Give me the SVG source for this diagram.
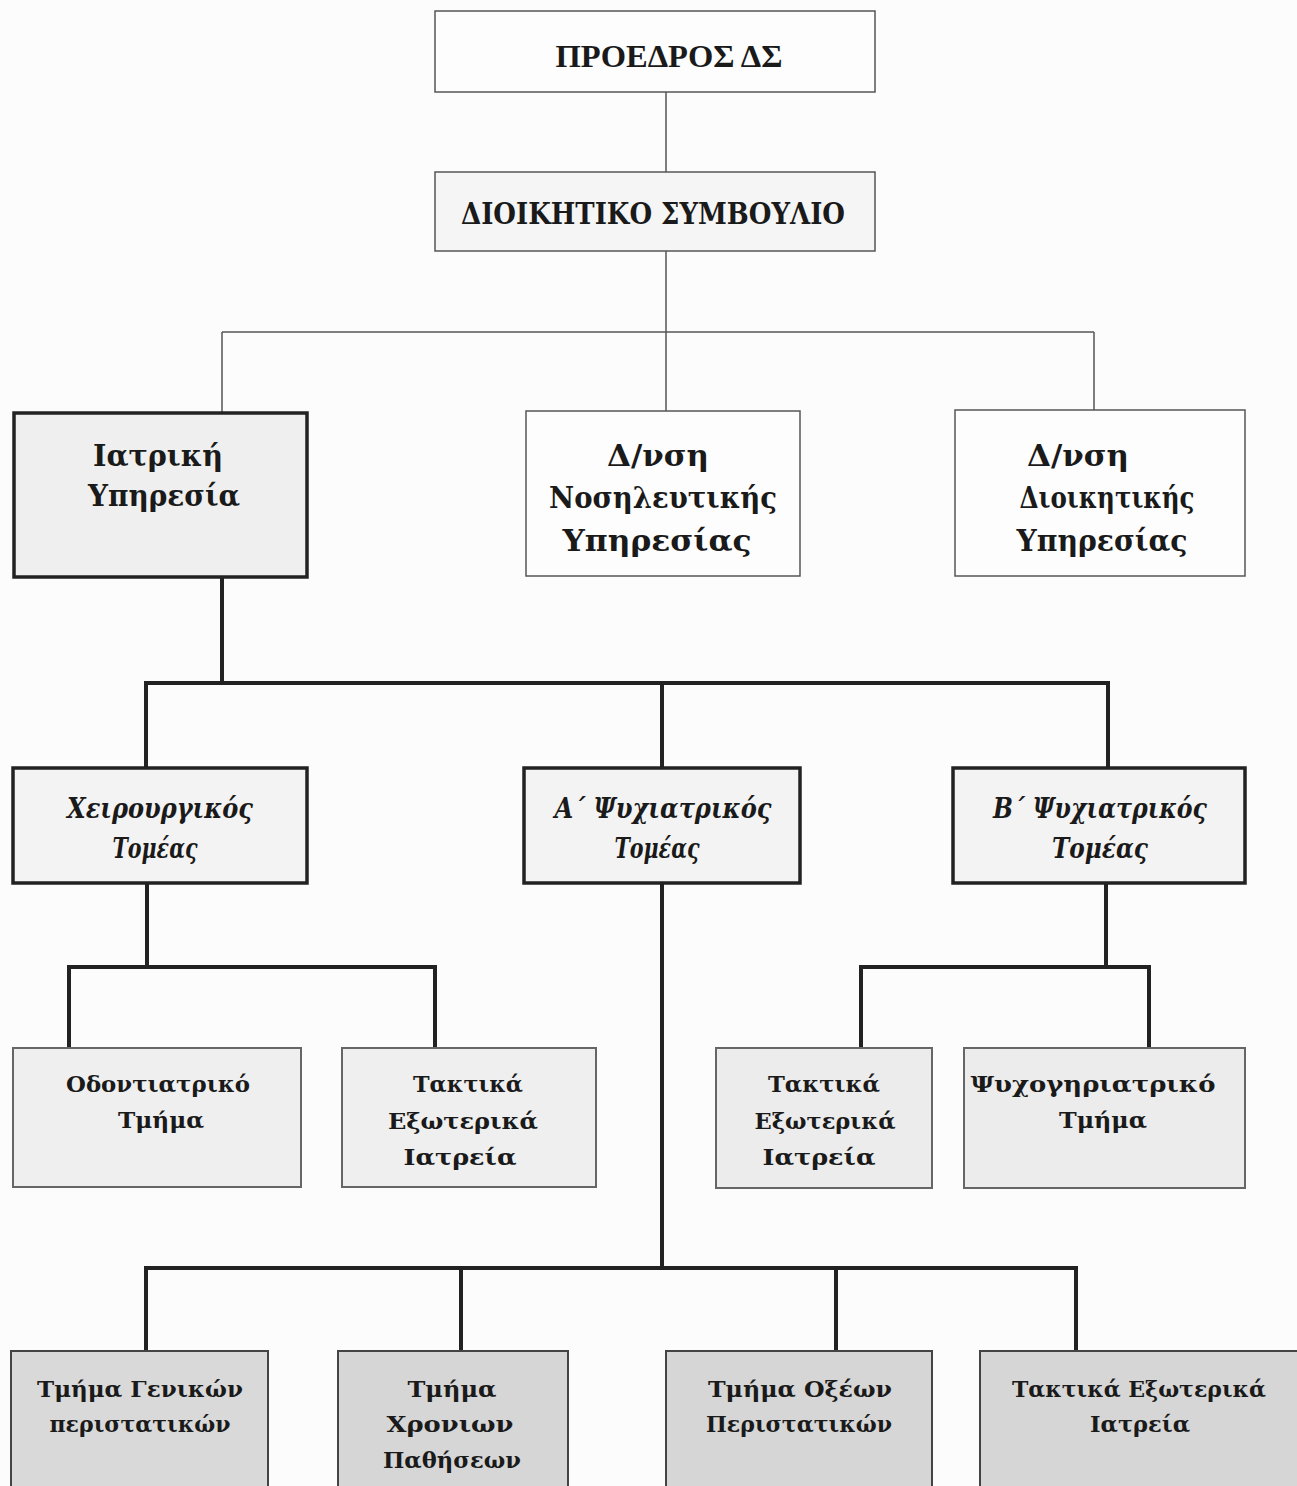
<svg xmlns="http://www.w3.org/2000/svg" width="1297" height="1486" viewBox="0 0 1297 1486">
<style>
.thin{fill:none;stroke:#555;stroke-width:1.5}
.thick{fill:none;stroke:#222;stroke-width:4;stroke-linecap:square}
.b1{stroke:#555;stroke-width:1.5}
.b2{stroke:#222;stroke-width:3.5}
.b3{stroke:#666;stroke-width:2}
.b4{stroke:#444;stroke-width:2}
text{font-family:"DejaVu Serif","Liberation Serif",serif;fill:#1a1a1a;text-anchor:middle;font-weight:bold}
.t1{font-size:29px}
.tc{font-family:"Liberation Serif",serif;font-size:32px}
.ti{font-size:28px;font-style:italic}
.t3{font-size:23px}
.t4{font-size:23px}
</style>
<rect width="1297" height="1486" fill="#fcfcfc"/>
<g id="connectors">
<path class="thin" d="M666 92V172M666 251V411M222 332H1094M222 332V413M1094 332V410"/>
<path class="thick" d="M222 577V683M146 683H1108M146 683V768M662 683V768M1108 683V768"/>
<path class="thick" d="M147 883V967M69 967H435M69 967V1048M435 967V1048"/>
<path class="thick" d="M1106 883V967M861 967H1149M861 967V1048M1149 967V1048"/>
<path class="thick" d="M662 883V1268M146 1268H1076M146 1268V1351M461 1268V1351M836 1268V1351M1076 1268V1351"/>
</g>
<g id="proedros">
<rect class="b1" x="435" y="11" width="440" height="81" fill="#fdfdfd"/>
<text class="tc" x="669" y="67" textLength="227" lengthAdjust="spacingAndGlyphs">ΠΡΟΕΔΡΟΣ ΔΣ</text>
</g>
<g id="ds">
<rect class="b1" x="435" y="172" width="440" height="79" fill="#f5f5f5"/>
<text class="t1" x="653" y="224" textLength="384" lengthAdjust="spacingAndGlyphs">ΔΙΟΙΚΗΤΙΚΟ ΣΥΜΒΟΥΛΙΟ</text>
</g>
<g id="iatriki">
<rect class="b2" x="14" y="413" width="293" height="164" fill="#efefef"/>
<text class="t1" x="158" y="466" textLength="130" lengthAdjust="spacingAndGlyphs">Ιατρική</text>
<text class="t1" x="164" y="506" textLength="152" lengthAdjust="spacingAndGlyphs">Υπηρεσία</text>
</g>
<g id="nosileftiki">
<rect class="b1" x="526" y="411" width="274" height="165" fill="#fdfdfd"/>
<text class="t1" x="658" y="466" textLength="102" lengthAdjust="spacingAndGlyphs">Δ/νση</text>
<text class="t1" x="663" y="508" textLength="228" lengthAdjust="spacingAndGlyphs">Νοσηλευτικής</text>
<text class="t1" x="657" y="551" textLength="189" lengthAdjust="spacingAndGlyphs">Υπηρεσίας</text>
</g>
<g id="dioikitiki">
<rect class="b1" x="955" y="410" width="290" height="166" fill="#fdfdfd"/>
<text class="t1" x="1078" y="466" textLength="102" lengthAdjust="spacingAndGlyphs">Δ/νση</text>
<text class="t1" x="1107" y="508" textLength="175" lengthAdjust="spacingAndGlyphs">Διοικητικής</text>
<text class="t1" x="1102" y="551" textLength="171" lengthAdjust="spacingAndGlyphs">Υπηρεσίας</text>
</g>
<g id="xeirourgikos">
<rect class="b2" x="13" y="768" width="294" height="115" fill="#f3f3f3"/>
<text class="ti" x="160" y="818" textLength="186" lengthAdjust="spacingAndGlyphs">Χειρουργικός</text>
<text class="ti" x="155" y="858" textLength="85" lengthAdjust="spacingAndGlyphs">Τομέας</text>
</g>
<g id="a-psychiatrikos">
<rect class="b2" x="524" y="768" width="276" height="115" fill="#f3f3f3"/>
<text class="ti" x="663" y="818" textLength="217" lengthAdjust="spacingAndGlyphs">Α΄ Ψυχιατρικός</text>
<text class="ti" x="657" y="858" textLength="85" lengthAdjust="spacingAndGlyphs">Τομέας</text>
</g>
<g id="b-psychiatrikos">
<rect class="b2" x="953" y="768" width="292" height="115" fill="#f3f3f3"/>
<text class="ti" x="1100" y="818" textLength="214" lengthAdjust="spacingAndGlyphs">Β΄ Ψυχιατρικός</text>
<text class="ti" x="1100" y="858" textLength="96" lengthAdjust="spacingAndGlyphs">Τομέας</text>
</g>
<g id="odontiatriko">
<rect class="b3" x="13" y="1048" width="288" height="139" fill="#efefef"/>
<text class="t3" x="158" y="1092" textLength="184" lengthAdjust="spacingAndGlyphs">Οδοντιατρικό</text>
<text class="t3" x="161" y="1128" textLength="86" lengthAdjust="spacingAndGlyphs">Τμήμα</text>
</g>
<g id="taktika-1">
<rect class="b3" x="342" y="1048" width="254" height="139" fill="#efefef"/>
<text class="t3" x="468" y="1092" textLength="110" lengthAdjust="spacingAndGlyphs">Τακτικά</text>
<text class="t3" x="463" y="1129" textLength="150" lengthAdjust="spacingAndGlyphs">Εξωτερικά</text>
<text class="t3" x="460" y="1165" textLength="113" lengthAdjust="spacingAndGlyphs">Ιατρεία</text>
</g>
<g id="taktika-2">
<rect class="b3" x="716" y="1048" width="216" height="140" fill="#ececec"/>
<text class="t3" x="824" y="1092" textLength="112" lengthAdjust="spacingAndGlyphs">Τακτικά</text>
<text class="t3" x="825" y="1129" textLength="141" lengthAdjust="spacingAndGlyphs">Εξωτερικά</text>
<text class="t3" x="819" y="1165" textLength="113" lengthAdjust="spacingAndGlyphs">Ιατρεία</text>
</g>
<g id="psychogiriatriko">
<rect class="b3" x="964" y="1048" width="281" height="140" fill="#ececec"/>
<text class="t3" x="1093" y="1092" textLength="245" lengthAdjust="spacingAndGlyphs">Ψυχογηριατρικό</text>
<text class="t3" x="1103" y="1128" textLength="88" lengthAdjust="spacingAndGlyphs">Τμήμα</text>
</g>
<g id="genikon">
<rect class="b4" x="11" y="1351" width="257" height="140" fill="#d9d9d9"/>
<text class="t4" x="140" y="1397" textLength="206" lengthAdjust="spacingAndGlyphs">Τμήμα Γενικών</text>
<text class="t4" x="140" y="1432" textLength="181" lengthAdjust="spacingAndGlyphs">περιστατικών</text>
</g>
<g id="xronion">
<rect class="b4" x="338" y="1351" width="230" height="140" fill="#d6d6d6"/>
<text class="t4" x="452" y="1397" textLength="89" lengthAdjust="spacingAndGlyphs">Τμήμα</text>
<text class="t4" x="450" y="1432" textLength="127" lengthAdjust="spacingAndGlyphs">Χρονιων</text>
<text class="t4" x="452" y="1468" textLength="138" lengthAdjust="spacingAndGlyphs">Παθήσεων</text>
</g>
<g id="oxeon">
<rect class="b4" x="666" y="1351" width="266" height="140" fill="#d6d6d6"/>
<text class="t4" x="800" y="1397" textLength="184" lengthAdjust="spacingAndGlyphs">Τμήμα Οξέων</text>
<text class="t4" x="799" y="1432" textLength="186" lengthAdjust="spacingAndGlyphs">Περιστατικών</text>
</g>
<g id="taktika-3">
<rect class="b4" x="980" y="1351" width="320" height="140" fill="#d6d6d6"/>
<text class="t4" x="1139" y="1397" textLength="254" lengthAdjust="spacingAndGlyphs">Τακτικά Εξωτερικά</text>
<text class="t4" x="1140" y="1432" textLength="100" lengthAdjust="spacingAndGlyphs">Ιατρεία</text>
</g>
</svg>
